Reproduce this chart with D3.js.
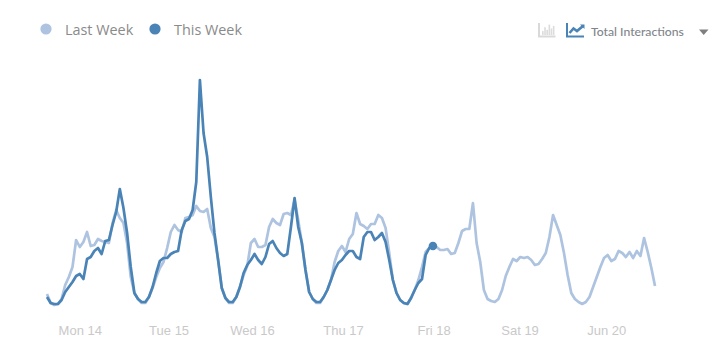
<!DOCTYPE html>
<html><head><meta charset="utf-8">
<script src="https://cdn.jsdelivr.net/npm/d3@7/dist/d3.min.js"></script>
<style>html,body{margin:0;padding:0;background:#fff;overflow:hidden}svg{display:block}</style>
</head><body><svg id="c" width="720" height="357"></svg>
<script>
const lastWeek=[16,7,5,6,11,25,33,43,70,63,68,78,64,65,71,69,68,67,87,100,92,87,67,33,17,11,7,7,13,22,33,42,48,62,78,85,80,78,92,93,95,104,99,98,101,82,73,50,22,12,7,7,13,23,35,44,67,71,63,63,65,83,91,87,85,96,97,95,110,90,67,40,18,11,7,7,13,20,30,48,59,64,58,71,76,97,86,84,81,86,86,95,92,82,57,30,17,10,7,6,12,20,30,43,58,62,64,63,60,60,61,56,57,67,79,81,81,107,67,48,20,11,9,8,11,20,34,43,51,49,53,52,53,50,45,46,51,57,73,95,85,75,57,35,17,11,8,6,8,13,23,33,43,52,55,49,51,59,57,53,58,52,59,54,72,58,42,24];
const thisWeek=[13,7,6,6,10,18,23,28,34,36,31,51,53,59,62,56,69,70,85,98,121,102,77,43,17,11,8,8,13,23,37,49,52,52,56,58,59,80,89,91,100,128,230,177,153,113,77,50,22,12,8,8,13,23,37,45,50,56,50,46,53,66,69,62,57,54,56,83,112,83,67,40,18,11,8,8,13,20,30,40,47,50,55,59,59,53,51,73,78,78,70,73,77,68,50,30,17,10,7,6,12,20,27,31,55,62,64];
const tickLabels=["Mon 14","Tue 15","Wed 16","Thu 17","Fri 18","Sat 19","Jun 20"];
const tickHours=[9,33.4,56.3,81.3,106.2,129.8,153.6];
const legendLabels=["Last Week","This Week"];
const metricLabel="Total Interactions";
const barHeights=[3,6,4,8,5,7];

const LIGHT="#adc3e0",DARK="#4a83b6";
const svg=d3.select("#c");
const x=d3.scaleLinear().domain([0,167]).range([47,655]);
const y=d3.scaleLinear().domain([0,230]).range([310,80]);
const line=d3.line().x((d,i)=>x(i)).y(d=>y(d)).curve(d3.curveLinear);

svg.append("path").datum(lastWeek).attr("d",line).attr("fill","none").attr("stroke",LIGHT).attr("stroke-width",2.7).attr("stroke-linejoin","round");
svg.append("path").datum(thisWeek).attr("d",line).attr("fill","none").attr("stroke",DARK).attr("stroke-width",2.7).attr("stroke-linejoin","round");
const li=thisWeek.length-1;
svg.append("circle").attr("cx",x(li)).attr("cy",y(thisWeek[li])).attr("r",4.3).attr("fill",DARK);

const axis=d3.axisBottom(x).tickValues(tickHours).tickFormat((d,i)=>tickLabels[i]).tickSize(0);
const g=svg.append("g").attr("transform","translate(0,322)").call(axis);
g.select(".domain").remove();
g.selectAll("text").attr("font-family","'Liberation Sans',Arial,sans-serif").attr("font-size",13).attr("fill","#c9c9c9").attr("dy","0.32em").attr("y",9);

// legend
const lg=svg.append("g");
[[46,65,LIGHT],[155,174,DARK]].forEach((p,i)=>{
  lg.append("circle").attr("cx",p[0]).attr("cy",29).attr("r",5.6).attr("fill",p[2]);
  lg.append("text").attr("x",p[1]).attr("y",34.5).text(legendLabels[i]).attr("font-family","'Open Sans',sans-serif").attr("font-size",14.4).attr("fill","#8a8a8a");
});

// top right icons
const ic=svg.append("g");
ic.append("path").attr("d","M539 23V36.5H555.5").attr("fill","none").attr("stroke","#d9d9d9").attr("stroke-width",2);
const bx=d3.scaleBand().domain(d3.range(barHeights.length)).range([541.5,555]).padding(0.25);
barHeights.forEach((h,i)=>ic.append("rect").attr("x",bx(i)).attr("width",bx.bandwidth()).attr("y",35-h*1.3).attr("height",h*1.3).attr("fill","#dcdcdc"));
ic.append("path").attr("d","M567 23V36.5H584").attr("fill","none").attr("stroke",DARK).attr("stroke-width",2);
ic.append("path").attr("d","M569.5 33L573.5 28.5L577 31L583 26").attr("fill","none").attr("stroke",DARK).attr("stroke-width",2.6);
ic.append("path").attr("d","M580 24.5H584.5V29Z").attr("fill",DARK);
ic.append("text").attr("x",591).attr("y",36).text(metricLabel).attr("font-family","Lato,sans-serif").attr("font-size",12.2).attr("font-weight",500).attr("fill","#7f858b");
ic.append("path").attr("d","M699 29.5H708.5L703.7 35Z").attr("fill","#7f7f7f");
</script></body></html>
